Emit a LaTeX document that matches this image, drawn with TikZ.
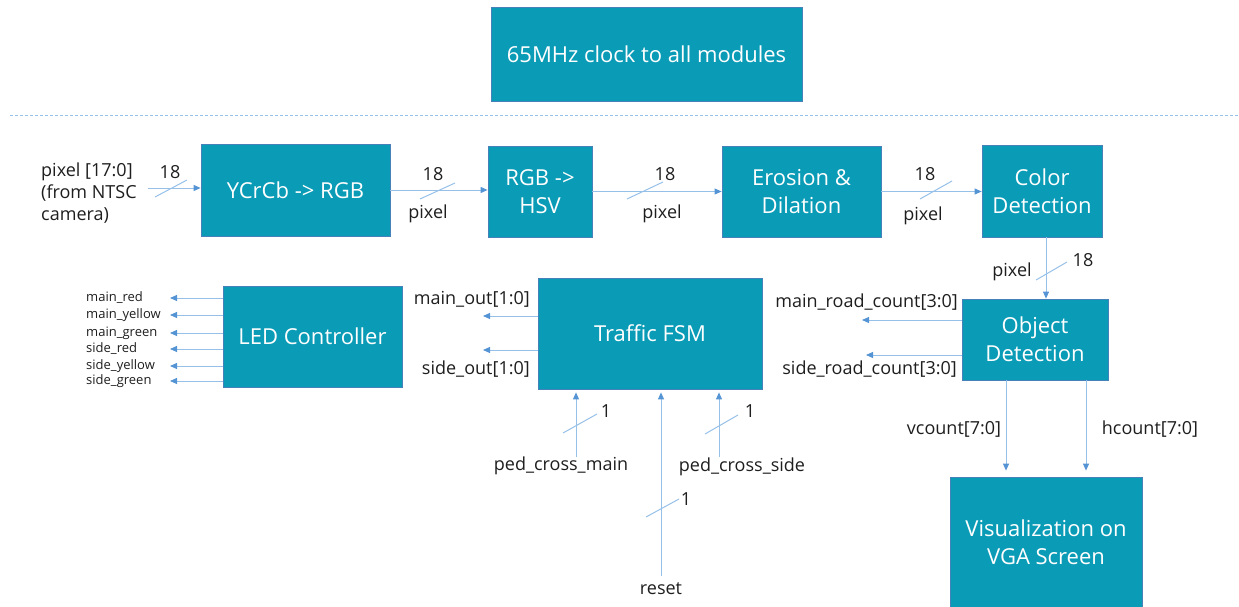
\documentclass[tikz,border=0pt]{standalone}
\usepackage{fontspec}
\setmainfont{Open Sans}
\usetikzlibrary{arrows.meta}
\definecolor{boxfill}{RGB}{10,155,182}
\definecolor{boxedge}{RGB}{70,130,185}
\definecolor{wire}{RGB}{150,192,232}
\definecolor{tipc}{RGB}{85,148,212}
\definecolor{txt}{RGB}{30,30,30}
\tikzset{
  box/.style={draw=boxedge, fill=boxfill, text=white, inner sep=0pt, line width=0.8pt,
    align=center, font=\fontsize{22}{28}\selectfont},
  wire/.style={draw=wire, line width=1pt},
  arr/.style={wire, -{Triangle[length=7pt,width=6pt,color=tipc,fill=tipc]}},
  lbl/.style={text=txt, inner sep=0pt, font=\fontsize{18}{22}\selectfont},
  small/.style={text=txt, inner sep=0pt, font=\fontsize{13}{14}\selectfont, anchor=west},
}
\begin{document}
\begin{tikzpicture}[x=1pt,y=-1pt]
\useasboundingbox (0,0) rectangle (1239,607);

% separator
\draw[wire, dashed, dash pattern=on 3pt off 2pt, line width=0.8pt] (10,115) -- (1239,115);

% boxes
\node[box, minimum width=311pt, minimum height=94pt] (clk) at (646.5,54) {65MHz clock to all modules};
\node[box, minimum width=189pt, minimum height=92pt] (ycc) at (295.5,190) {YCrCb -> RGB};
\node[box, minimum width=104pt, minimum height=91pt] (hsv) at (540,191.5) {RGB ->\\HSV};
\node[box, minimum width=159pt, minimum height=91pt] (ero) at (801.5,191.5) {Erosion \&\\Dilation};
\node[box, minimum width=120pt, minimum height=92pt] (col) at (1042,191) {Color\\Detection};
\node[box, minimum width=146pt, minimum height=81pt] (obj) at (1035,339.5) {Object\\Detection};
\node[box, minimum width=224pt, minimum height=111pt] (fsm) at (650,333.5) {Traffic FSM};
\node[box, minimum width=179pt, minimum height=101pt] (led) at (312.5,336.5) {LED Controller};
\node[box, minimum width=192pt, minimum height=130pt] (vis) at (1046,542) {Visualization on\\VGA Screen};

% input
\node[lbl, anchor=north west, align=left] (inlbl) at (41,163) {pixel [17:0]\\(from NTSC\\camera)};
\coordinate (inS) at (148,188);
\draw[arr] (inS) -- (inS -| ycc.west);
\draw[wire] (155,197) -- (187,180);
\node[lbl] (n0) at (170,172) {18};

% pipeline
\draw[arr] (ycc.east) -- (ycc.east -| hsv.west);
\draw[wire] (420,199) -- (455,183);
\node[lbl] (n1) at (433,174) {18};
\node[lbl] (p1) at (428,214) {pixel};

\draw[arr] (hsv.east) -- (hsv.east -| ero.west);
\draw[wire] (627,199) -- (663,182);
\node[lbl] (n2) at (665,174) {18};
\node[lbl] (p2) at (662,214) {pixel};

\draw[arr] (ero.east) -- (ero.east -| col.west);
\draw[wire] (920,199) -- (952,181);
\node[lbl] (n3) at (925,174) {18};
\node[lbl] (p3) at (923,216) {pixel};

% color -> object
\draw[arr] (col.south -| 1046,0) -- (obj.north -| 1046,0);
\draw[wire] (1036,280) -- (1067,262);
\node[lbl] (n4) at (1083,260) {18};
\node[lbl] (p4) at (1012,272) {pixel};

% object outputs
\coordinate (mrc) at (862,320);
\draw[arr] (obj.west |- mrc) -- (mrc);
\node[lbl, anchor=east] (mrcl) at (958,302) {main\_road\_count[3:0]};
\coordinate (src) at (866,355);
\draw[arr] (obj.west |- src) -- (src);
\node[lbl, anchor=east] (srcl) at (957,369) {side\_road\_count[3:0]};

\draw[arr, shorten >=6pt] (obj.south -| 1006,0) -- (vis.north -| 1006,0);
\draw[arr, shorten >=6pt] (obj.south -| 1086,0) -- (vis.north -| 1086,0);
\node[lbl] (vcl) at (954,429) {vcount[7:0]};
\node[lbl] (hcl) at (1150,429) {hcount[7:0]};

% FSM outputs
\coordinate (mo) at (483,316);
\draw[arr] (fsm.west |- mo) -- (mo);
\node[lbl, anchor=east] (mol) at (530,299) {main\_out[1:0]};
\coordinate (so) at (483,350);
\draw[arr] (fsm.west |- so) -- (so);
\node[lbl, anchor=east] (sol) at (530,369) {side\_out[1:0]};

% LED outputs
\foreach \y/\t [count=\i] in {298/main\_red, 315/main\_yellow, 333/main\_green, 349/side\_red, 366/side\_yellow, 381/side\_green}{
  \coordinate (led\i) at (170,\y);
  \draw[arr] (led.west |- led\i) -- (led\i);
  \node[small] (ledl\i) at (86,\y) {\t};
}

% FSM inputs
\coordinate (pcmS) at (576,457);
\draw[arr, shorten >=3pt] (pcmS) -- (fsm.south -| pcmS);
\draw[wire] (563,433) -- (597,414);
\node[lbl] (i1) at (606,411) {1};
\node[lbl] (pcml) at (561,466) {ped\_cross\_main};

\coordinate (rstS) at (661,576);
\draw[arr, shorten >=3pt] (rstS) -- (fsm.south -| rstS);
\draw[wire] (646,517) -- (679,499);
\node[lbl] (i2) at (686,499) {1};
\node[lbl] (rstl) at (661,589) {reset};

\coordinate (pcsS) at (719,457);
\draw[arr, shorten >=3pt] (pcsS) -- (fsm.south -| pcsS);
\draw[wire] (705,434) -- (738,415);
\node[lbl] (i3) at (750,411) {1};
\node[lbl] (pcsl) at (742,467) {ped\_cross\_side};
\end{tikzpicture}
\end{document}
